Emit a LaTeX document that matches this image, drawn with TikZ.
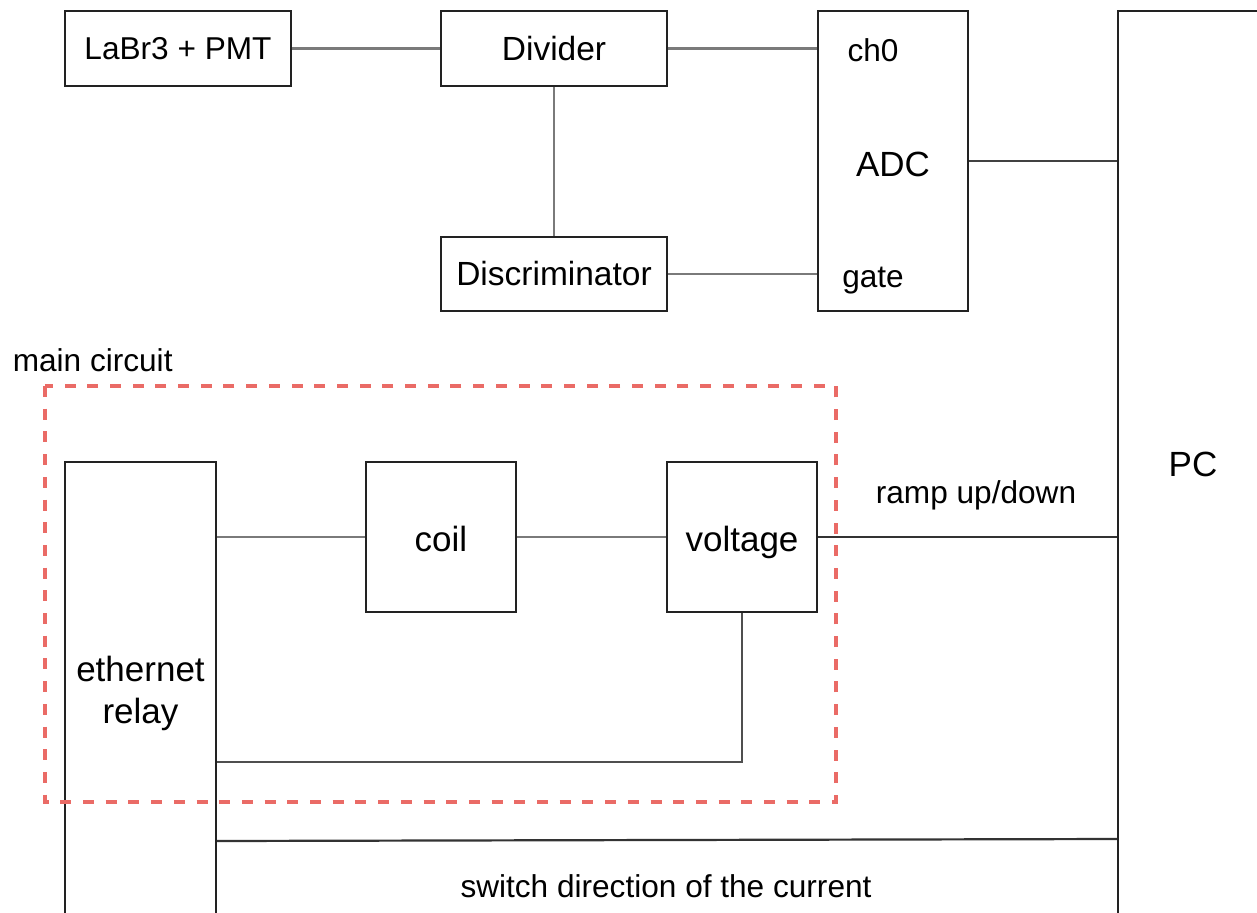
\documentclass[tikz,border=0pt]{standalone}
\usepackage{fontspec}
\setmainfont{Liberation Sans}
\definecolor{boxc}{HTML}{222222}
\definecolor{grayl}{HTML}{7A7A7A}
\definecolor{darkl}{HTML}{333333}
\definecolor{redd}{HTML}{EA6B66}
\newcommand\fsA{\fontsize{31.6}{38}\selectfont}
\newcommand\fsB{\fontsize{33.5}{40}\selectfont}
\newcommand\fsC{\fontsize{35}{42}\selectfont}
\begin{document}
\begin{tikzpicture}[x=1pt,y=-1pt,
  box/.style={draw=boxc, line width=2pt, rectangle, inner sep=0pt, font=\fsB},
  gline/.style={draw=grayl, line width=2.6pt},
  bline/.style={draw=darkl, line width=2.2pt},
  lbl/.style={inner sep=0pt, anchor=base, font=\fsA},
  region/.style={draw=redd, line width=3.5pt, dash pattern=on 11pt off 11.7pt}]
\useasboundingbox (0,0) rectangle (1257,912);
\clip (0,0) rectangle (1257,912);
% boxes
\node[box, minimum width=226pt, minimum height=75pt, font=\fsA] (labr) at (178,48.5) {LaBr3 + PMT};
\node[box, minimum width=226pt, minimum height=75pt] (div) at (554,48.5) {Divider};
\node[box, minimum width=226pt, minimum height=74pt] (disc) at (554,274) {Discriminator};
\node[box, minimum width=150pt, minimum height=300pt, font=\fsC, text height=31pt, text depth=0pt] (adc) at (893,161) {ADC};
\node[box, minimum width=150pt, minimum height=906pt, font=\fsC] (pc) at (1193,464) {PC};
\node[box, minimum width=151pt, minimum height=462pt, font=\fsC, align=center] (relay) at (140.5,693) {ethernet\\relay};
\node[box, minimum width=150pt, minimum height=150pt, font=\fsC, text height=28pt, text depth=0pt] (coil) at (441,537) {coil};
\node[box, minimum width=150pt, minimum height=150pt, font=\fsC, text height=28pt, text depth=0pt] (volt) at (742,537) {voltage};
% labels
\node[lbl] (ch0) at (873,61.7) {ch0};
\node[lbl] (gate) at (873,287) {gate};
\node[lbl] (mainlbl) at (92.7,371.7) {main circuit};
\node[lbl] (ramp) at (976,503) {ramp up/down};
\node[lbl] (sw) at (666,897) {switch direction of the current};
% connectors
\draw[gline] (labr) -- (div);
\draw[gline] (div) -- (adc.west |- div);
\draw[gline] (div) -- (disc);
\draw[gline] (disc) -- (adc.west |- disc);
\draw[gline, draw=darkl!80!grayl] (adc) -- (pc.west |- adc);
\draw[gline] (relay.east |- coil) -- (coil);
\draw[gline] (coil) -- (volt);
\draw[bline] (volt) -- (pc.west |- volt);
\draw[gline, draw=darkl!60!grayl] (volt.south) |- ([yshift=-301pt]relay.north east);
\draw[bline] ([yshift=-380pt]relay.north east) -- ([yshift=-829pt]pc.north west);
% main circuit region
\draw[region] (45,386) rectangle (836,802);
\end{tikzpicture}
\end{document}
